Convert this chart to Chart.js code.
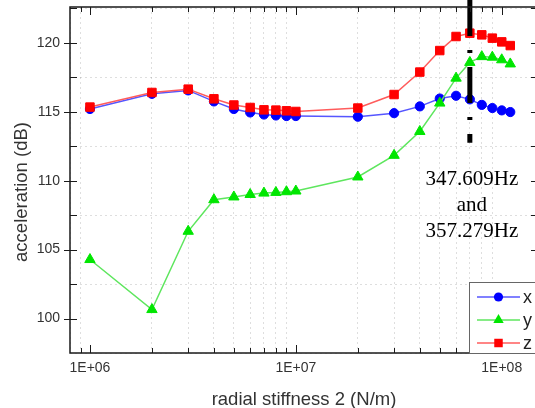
<!DOCTYPE html>
<html>
<head>
<meta charset="utf-8">
<script src="https://cdn.jsdelivr.net/npm/chart.js@4/dist/chart.umd.min.js"></script>
<style>
  html, body { margin: 0; padding: 0; background: #fff; overflow: hidden; }
  #wrap { width: 535px; height: 408px; overflow: hidden; position: relative; }
  #c { position: absolute; left: 0; top: 0; }
</style>
</head>
<body>
<div id="wrap"><canvas id="c" width="548" height="414"></canvas></div>
<script>
// radial stiffness 2 (N/m)
const stiffness = [1e6, 2e6, 3e6, 4e6, 5e6, 6e6, 7e6, 8e6, 9e6, 1e7,
                   2e7, 3e7, 4e7, 5e7, 6e7, 7e7, 8e7, 9e7, 1e8, 1.1e8];
// acceleration (dB) per direction
const accX = [115.2, 116.3, 116.55, 115.75, 115.2, 114.95, 114.8, 114.73, 114.69, 114.69,
              114.64, 114.9, 115.39, 115.96, 116.16, 115.9, 115.5, 115.27, 115.1, 114.98];
const accY = [104.28, 100.65, 106.33, 108.62, 108.82, 109.0, 109.1, 109.15, 109.2, 109.25,
              110.27, 111.84, 113.57, 115.63, 117.44, 118.58, 119.0, 118.96, 118.77, 118.47];
const accZ = [115.34, 116.4, 116.64, 115.94, 115.49, 115.31, 115.14, 115.12, 115.07, 115.02,
              115.27, 116.25, 117.88, 119.44, 120.46, 120.7, 120.58, 120.34, 120.07, 119.8];
// resonance marker position and its label
const markerX = [7e7, 7e7];
const markerY = [123.1, 112.75];
const markerText = ['347.609Hz', 'and', '357.279Hz'];
// axis ranges and tick values
const xRange = [8e5, 1.5e8];
const yRange = [97.5, 122.6];
const yTickValues = [97.5, 100, 102.5, 105, 107.5, 110, 112.5, 115, 117.5, 120, 122.5];

const SANS = '"Liberation Sans", Arial, sans-serif';
const SERIF = '"Liberation Serif", "Times New Roman", serif';
const TEXT = '#333';

function isPow10(v) {
  const e = Math.round(Math.log10(v));
  return Math.abs(v - Math.pow(10, e)) < 1e-6 * v;
}
function logTicks(min, max) {
  const out = [];
  for (let e = Math.floor(Math.log10(min)); e <= Math.ceil(Math.log10(max)); e++) {
    for (let k = 1; k <= 9; k++) {
      const v = k * Math.pow(10, e);
      if (v >= min * 0.9999 && v <= max * 1.0001) out.push(v);
    }
  }
  return out;
}
const pts = arr => stiffness.map((s, i) => ({ x: s, y: arr[i] }));

const series = [
  { label: 'x', data: accX, line: '#5656ff', mark: '#0000ff', style: 'circle', r: 4.6, order: 3 },
  { label: 'y', data: accY, line: '#5ee65e', mark: '#00e600', style: 'triangle', r: 6, order: 2 },
  { label: 'z', data: accZ, line: '#ff5c5c', mark: '#ff0000', style: 'rect', r: 6, order: 1 }
];

const datasets = series.map(s => ({
  label: s.label,
  data: pts(s.data),
  borderColor: s.line,
  borderWidth: 1.5,
  backgroundColor: s.mark,
  pointBackgroundColor: s.mark,
  pointBorderColor: s.mark,
  pointBorderWidth: 1,
  pointStyle: s.style,
  pointRadius: s.r,
  order: s.order
}));
datasets.push({
  label: 'marker',
  data: markerX.map((x, i) => ({ x: x, y: markerY[i] })),
  borderColor: '#000',
  borderWidth: 5,
  borderDash: [36, 14, 3, 14],
  borderCapStyle: 'butt',
  pointRadius: 0,
  clip: false,
  order: 0
});

function drawMarker(ctx, style, x, y, r, color) {
  ctx.fillStyle = color;
  ctx.beginPath();
  if (style === 'circle') {
    ctx.arc(x, y, r, 0, Math.PI * 2);
  } else if (style === 'triangle') {
    ctx.moveTo(x, y - r);
    ctx.lineTo(x + r * Math.sqrt(3) / 2, y + r / 2);
    ctx.lineTo(x - r * Math.sqrt(3) / 2, y + r / 2);
    ctx.closePath();
  } else {
    const h = r * Math.SQRT1_2;
    ctx.rect(x - h, y - h, 2 * h, 2 * h);
  }
  ctx.fill();
}

const decorations = {
  id: 'decorations',
  afterDraw(chart) {
    const ctx = chart.ctx, a = chart.chartArea;
    const xs = chart.scales.x, ys = chart.scales.y;
    ctx.save();

    // frame
    ctx.strokeStyle = '#1a1a1a';
    ctx.lineWidth = 1.5;
    ctx.strokeRect(a.left, a.top, a.right - a.left, a.bottom - a.top);

    // inward tick marks on all four sides
    ctx.lineWidth = 1;
    ctx.beginPath();
    xs.ticks.forEach(t => {
      const px = Math.round(xs.getPixelForValue(t.value)) + 0.5;
      if (px <= a.left + 1 || px >= a.right - 1) return;
      const len = isPow10(t.value) ? 8 : 5;
      ctx.moveTo(px, a.bottom); ctx.lineTo(px, a.bottom - len);
      ctx.moveTo(px, a.top); ctx.lineTo(px, a.top + len);
    });
    ys.ticks.forEach(t => {
      const py = Math.round(ys.getPixelForValue(t.value)) + 0.5;
      if (py <= a.top + 1 || py >= a.bottom - 1) return;
      const major = Math.abs(t.value % 5) < 1e-9;
      ctx.moveTo(a.left - (major ? 6 : 0), py); ctx.lineTo(a.left + 7, py);
      ctx.moveTo(a.right - 7, py); ctx.lineTo(a.right + (major ? 6 : 0), py);
    });
    ctx.stroke();

    // y axis title
    ctx.save();
    ctx.translate(22, (a.top + a.bottom) / 2 + 12);
    ctx.rotate(-Math.PI / 2);
    ctx.fillStyle = TEXT;
    ctx.font = '18.5px ' + SANS;
    ctx.textAlign = 'center';
    ctx.textBaseline = 'middle';
    ctx.fillText('acceleration (dB)', 0, 0);
    ctx.restore();

    // marker annotation
    const mx = xs.getPixelForValue(markerX[0]) + 2;
    const my = ys.getPixelForValue(markerY[1]);
    ctx.fillStyle = '#000';
    ctx.font = '21px ' + SERIF;
    ctx.textAlign = 'center';
    ctx.textBaseline = 'alphabetic';
    markerText.forEach((s, i) => ctx.fillText(s, mx, my + 42 + i * 26));

    // legend box
    const lx = a.right - 69, ly = a.bottom - 71;
    ctx.fillStyle = '#fff';
    ctx.fillRect(lx, ly, 120, 71);
    ctx.strokeStyle = '#666';
    ctx.lineWidth = 1;
    ctx.strokeRect(lx + 0.5, ly + 0.5, 120, 71);
    series.forEach((s, i) => {
      const y = ly + 15 + i * 23;
      ctx.strokeStyle = s.line;
      ctx.lineWidth = 1.5;
      ctx.beginPath();
      ctx.moveTo(lx + 8, y); ctx.lineTo(lx + 51, y);
      ctx.stroke();
      drawMarker(ctx, s.style, lx + 29.5, y, s.r, s.mark);
      ctx.fillStyle = '#222';
      ctx.font = '18px ' + SANS;
      ctx.textAlign = 'left';
      ctx.textBaseline = 'middle';
      ctx.fillText(s.label, lx + 54, y + 1);
    });
    ctx.restore();
  }
};

new Chart(document.getElementById('c'), {
  type: 'line',
  data: { datasets: datasets },
  options: {
    responsive: false,
    animation: false,
    devicePixelRatio: 1,
    layout: { padding: { top: 7, right: 10, left: 0, bottom: 3 } },
    plugins: { legend: { display: false }, tooltip: { enabled: false } },
    elements: { line: { tension: 0 } },
    scales: {
      x: {
        type: 'logarithmic',
        min: xRange[0],
        max: xRange[1],
        afterBuildTicks: s => { s.ticks = logTicks(xRange[0], xRange[1]).map(v => ({ value: v, major: isPow10(v) })); },
        afterFit: s => { s.height = 58; s.paddingLeft = 0; s.paddingRight = 0; },
        ticks: {
          autoSkip: false,
          maxRotation: 0,
          padding: 7,
          color: TEXT,
          font: { family: SANS, size: 14 },
          callback: v => isPow10(v) ? '1E+' + String(Math.round(Math.log10(v))).padStart(2, '0') : ''
        },
        grid: {
          drawTicks: false,
          lineWidth: 1,
          color: c => (c.tick && !isPow10(c.tick.value)) ? 'rgba(0,0,0,0.13)' : 'rgba(0,0,0,0)'
        },
        border: { display: false, dash: [2, 3] },
        title: {
          display: true,
          text: 'radial stiffness 2 (N/m)',
          color: TEXT,
          font: { family: SANS, size: 18.5 },
          padding: { top: 0, bottom: 0 }
        }
      },
      y: {
        type: 'linear',
        min: yRange[0],
        max: yRange[1],
        afterBuildTicks: s => { s.ticks = yTickValues.map(v => ({ value: v })); },
        afterFit: s => { s.width = 70; s.paddingTop = 0; s.paddingBottom = 0; },
        ticks: {
          padding: 10,
          color: TEXT,
          font: { family: SANS, size: 14 },
          callback: v => (Math.abs(v % 5) < 1e-9) ? String(v) : ''
        },
        grid: {
          drawTicks: false,
          lineWidth: 1,
          color: c => (c.tick && Math.abs(c.tick.value % 5) > 1e-9) ? 'rgba(0,0,0,0.13)' : 'rgba(0,0,0,0)'
        },
        border: { display: false, dash: [2, 3] }
      }
    }
  },
  plugins: [decorations]
});
</script>
</body>
</html>
